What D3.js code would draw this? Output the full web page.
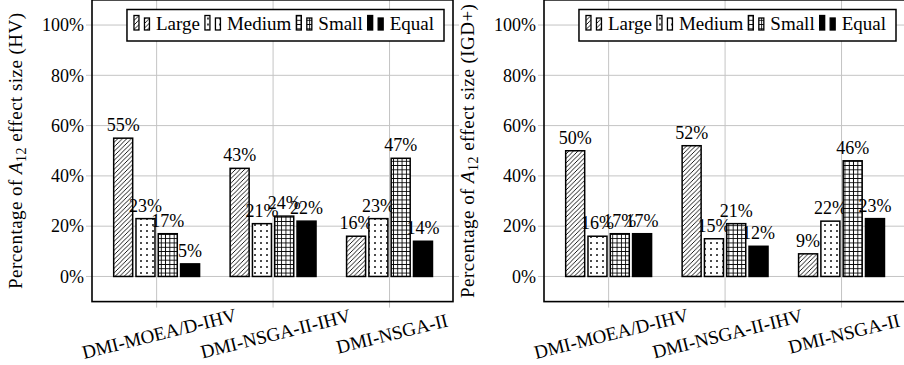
<!DOCTYPE html>
<html>
<head>
<meta charset="UTF-8">
<title>A12 effect size bars</title>
<script src="https://cdn.jsdelivr.net/npm/d3@7"></script>
<style>
  body { margin: 0; background: #fff; }
  svg text { font-family: "Liberation Serif", "DejaVu Serif", serif; fill: #000; }
</style>
</head>
<body>
<div id="chart"></div>
<script>

// data
var categories = ["DMI-MOEA/D-IHV", "DMI-NSGA-II-IHV", "DMI-NSGA-II"]
var levels     = ["Large", "Medium", "Small", "Equal"]
var yTicks     = [0, 20, 40, 60, 80, 100]

var hvLarge  = [55, 43, 16]
var hvMedium = [23, 21, 23]
var hvSmall  = [17, 24, 47]
var hvEqual  = [5, 22, 14]

var igdLarge  = [50, 52, 9]
var igdMedium = [16, 15, 22]
var igdSmall  = [17, 21, 46]
var igdEqual  = [17, 12, 23]

// layout
var W = 904, H = 365
var fontSize = 18      // numbers
var wordSize = 19      // words are a bit wider in the original font
var serif = "Liberation Serif, DejaVu Serif, serif"
var barWidth = 19
var barStep  = 22.3
var gridColor = "#c4c4c4"

var svg = d3.select("#chart").append("svg")
  .attr("width", W).attr("height", H)
  .attr("font-family", serif)

// fill patterns (page coordinates, like pgfplots)
var defs = svg.append("defs")

var hatch = defs.append("pattern").attr("id", "pat-large")
  .attr("patternUnits", "userSpaceOnUse").attr("width", 4.5).attr("height", 4.5)
hatch.append("rect").attr("width", 4.5).attr("height", 4.5).attr("fill", "#fff")
hatch.append("path").attr("d", "M-1,5.5 L5.5,-1 M-1,1 L1,-1 M3.5,5.5 L5.5,3.5")
  .attr("stroke", "#000").attr("stroke-width", 0.9)

var dots = defs.append("pattern").attr("id", "pat-medium")
  .attr("patternUnits", "userSpaceOnUse").attr("width", 6).attr("height", 6)
dots.append("rect").attr("width", 6).attr("height", 6).attr("fill", "#fff")
dots.append("circle").attr("cx", 3).attr("cy", 3).attr("r", 0.95).attr("fill", "#000")

var grid = defs.append("pattern").attr("id", "pat-small")
  .attr("patternUnits", "userSpaceOnUse").attr("width", 4.3).attr("height", 4.3)
grid.append("rect").attr("width", 4.3).attr("height", 4.3).attr("fill", "#fff")
grid.append("path").attr("d", "M2.15,0 V4.3 M0,2.15 H4.3")
  .attr("stroke", "#000").attr("stroke-width", 0.9)

var fills = ["url(#pat-large)", "url(#pat-medium)", "url(#pat-small)", "#000"]

function drawPanel(x0, x1, series, yLabelSub) {
  var g = svg.append("g")

  var x = d3.scaleLinear().domain([-0.555, 2.545]).range([x0, x1])
  var y = d3.scaleLinear().domain([-10, 110]).range([301.6, -0.1])

  // grid lines, which also stick out as outside ticks
  g.selectAll(".hgrid").data(yTicks).enter().append("line")
    .attr("x1", x0 - 6).attr("x2", x1 + 6)
    .attr("y1", function(d) { return y(d) }).attr("y2", function(d) { return y(d) })
    .attr("stroke", gridColor).attr("stroke-width", 1)
  g.selectAll(".vgrid").data(d3.range(categories.length)).enter().append("line")
    .attr("x1", function(d) { return x(d) }).attr("x2", function(d) { return x(d) })
    .attr("y1", y(-10) + 6).attr("y2", y(110) - 6)
    .attr("stroke", gridColor).attr("stroke-width", 1)

  // y tick labels
  var yAxis = g.append("g").attr("transform", "translate(" + (x0 - 8) + ",0)")
    .call(d3.axisLeft(y).tickValues(yTicks).tickSize(0).tickPadding(0)
      .tickFormat(function(d) { return d + "%" }))
  yAxis.attr("font-family", serif).attr("font-size", fontSize)
  yAxis.select(".domain").remove()
  yAxis.selectAll("text").attr("fill", "#000")

  // x tick labels, slightly rotated
  var xAxis = g.append("g").attr("transform", "translate(0," + y(-10) + ")")
    .call(d3.axisBottom(x).tickValues(d3.range(categories.length)).tickSize(0)
      .tickFormat(function(d) { return categories[d] }))
  xAxis.attr("font-family", serif).attr("font-size", wordSize)
  xAxis.select(".domain").remove()
  xAxis.selectAll("text").attr("fill", "#000")
    .attr("text-anchor", "middle").attr("dy", null).attr("y", null)
    .attr("dominant-baseline", "central")
    .attr("transform", "translate(2,32) rotate(-14)")

  // bars
  series.forEach(function(vals, j) {
    var bars = g.selectAll(".bar" + j).data(vals).enter()
    bars.append("rect")
      .attr("x", function(d, i) { return x(i) + (j - 1.5) * barStep - barWidth / 2 })
      .attr("width", barWidth)
      .attr("y", function(d) { return y(d) })
      .attr("height", function(d) { return y(0) - y(d) })
      .attr("fill", fills[j]).attr("stroke", "#000").attr("stroke-width", 1.5)
    bars.append("text")
      .attr("x", function(d, i) { return x(i) + (j - 1.5) * barStep })
      .attr("y", function(d) { return y(d) - 7 })
      .attr("text-anchor", "middle").attr("font-size", fontSize)
      .text(function(d) { return d + "%" })
  })

  // axis box
  g.append("rect").attr("x", x0).attr("y", y(110)).attr("width", x1 - x0)
    .attr("height", y(-10) - y(110)).attr("fill", "none")
    .attr("stroke", "#000").attr("stroke-width", 1.6)

  // legend
  var leg = g.append("g")
  var box = leg.append("rect").attr("fill", "#fff").attr("stroke", "#000").attr("stroke-width", 1.5)
  var cursor = 7
  levels.forEach(function(name, j) {
    leg.append("rect").attr("x", cursor).attr("y", 20.5 - 14.5).attr("width", 5).attr("height", 14.5)
      .attr("fill", fills[j]).attr("stroke", "#000").attr("stroke-width", 1.3)
    leg.append("rect").attr("x", cursor + 10.5).attr("y", 20.5 - 12).attr("width", 5).attr("height", 12)
      .attr("fill", fills[j]).attr("stroke", "#000").attr("stroke-width", 1.3)
    var t = leg.append("text").attr("x", cursor + 22).attr("y", 20.5)
      .attr("font-size", wordSize).text(name)
    cursor = cursor + 22 + t.node().getComputedTextLength() + 5
  })
  var boxW = cursor - 5 + 10
  box.attr("x", 0).attr("y", 0).attr("width", boxW).attr("height", 31.5)
  leg.attr("transform", "translate(" + (x1 - 9 - boxW) + ",9.5)")

  // y axis label, centred on the axis box
  var lab = g.append("text")
    .attr("transform", "translate(" + (x0 - 70) + "," + ((y(-10) + y(110)) / 2) + ") rotate(-90)")
    .attr("text-anchor", "middle").attr("font-size", wordSize)
    .attr("letter-spacing", 0.45)
  lab.append("tspan").text("Percentage of ")
  lab.append("tspan").attr("font-style", "italic").text("A")
  lab.append("tspan").attr("font-size", 14).attr("dy", 4).text("12")
  lab.append("tspan").attr("dy", -4).text(" effect size (" + yLabelSub + ")")
}

drawPanel(92, 453, [hvLarge, hvMedium, hvSmall, hvEqual], "HV")
drawPanel(544, 905, [igdLarge, igdMedium, igdSmall, igdEqual], "IGD+")

</script>
</body>
</html>
